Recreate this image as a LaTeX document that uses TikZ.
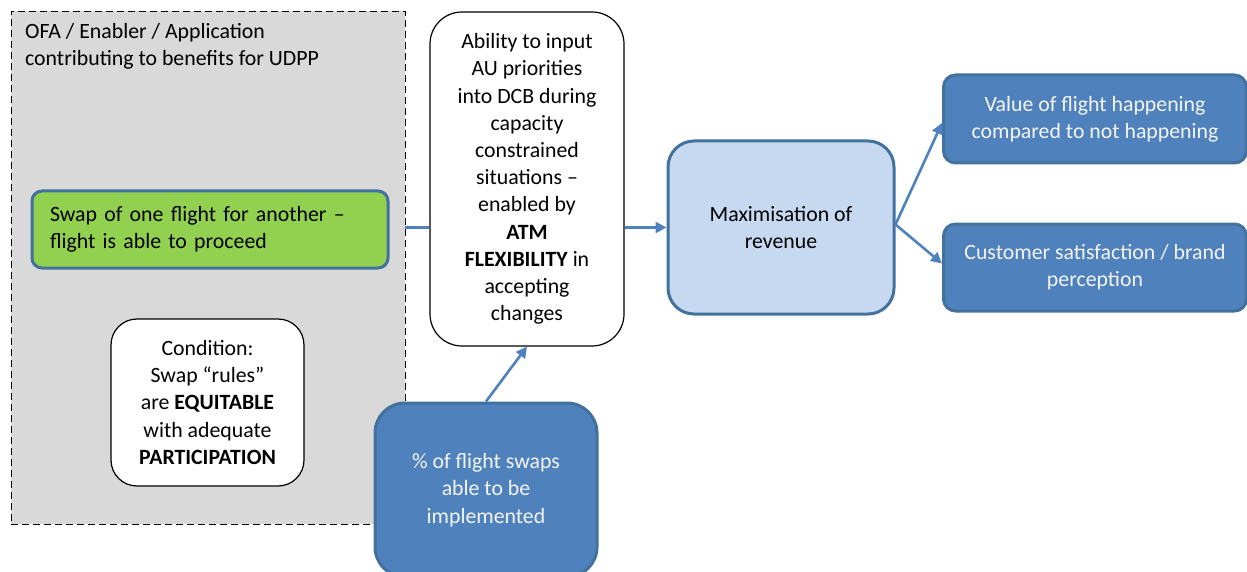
\documentclass[tikz,border=0pt]{standalone}
\usepackage{fontspec}
\setmainfont{Carlito}
\usetikzlibrary{arrows.meta}
\definecolor{grayfill}{HTML}{D9D9D9}
\definecolor{greenfill}{HTML}{92D050}
\definecolor{bluefill}{HTML}{4F81BD}
\definecolor{blueedge}{HTML}{41719C}
\definecolor{lightblue}{HTML}{C6D9F0}
\definecolor{wtext}{HTML}{F4F4F4}
\tikzset{
  box/.style={inner sep=0pt, align=center, font=\fontsize{21.8}{27.2}\selectfont},
  bluebox/.style={box, fill=bluefill, draw=blueedge, line width=3pt, text=wtext},
  whitebox/.style={box, fill=white, draw=black, line width=1.2pt},
  conn/.style={draw=bluefill, line width=2.6pt},
  arr/.style={conn, -{Triangle[length=11pt,width=11pt]}},
}
\begin{document}
\begin{tikzpicture}[x=1pt,y=-1pt]
\useasboundingbox (0,0) rectangle (1247,572);
\clip (0,0) rectangle (1247,572);
\node[box, fill=grayfill, draw=black, dash pattern=on 7pt off 4pt, line width=0.9pt, minimum width=394pt, minimum height=513pt] (outer) at (208,267.5) {};
\node[box, anchor=north west, align=left, text=black] (title) at (25,23) {OFA / Enabler / Application\\contributing to benefits for UDPP};
\node[box, fill=greenfill, draw=blueedge, line width=3pt, rounded corners=10pt, text width=320pt, inner xsep=18pt, align=left, minimum height=77pt] (swap) at (210,229.5) {Swap of one flight for another --\\flight is able to proceed};
\node[whitebox, rounded corners=26pt, minimum width=193pt, minimum height=167pt] (cond) at (207.5,402.5) {Condition:\\Swap ``rules''\\are \textbf{EQUITABLE}\\with adequate\\\textbf{PARTICIPATION}};
\node[whitebox, rounded corners=32pt, minimum width=194pt, minimum height=334pt] (abil) at (527,179) {Ability to input\\AU priorities\\into DCB during\\capacity\\constrained\\situations --\\enabled by\\\textbf{ATM}\\\textbf{FLEXIBILITY} in\\accepting\\changes};
\node[bluebox, rounded corners=30pt, minimum width=222pt, minimum height=174pt] (pct) at (486,490) {\% of flight swaps\\able to be\\implemented};
\node[box, fill=lightblue, draw=blueedge, line width=3pt, rounded corners=26pt, minimum width=226pt, minimum height=173pt] (maxr) at (781,227.5) {Maximisation of\\revenue};
\node[bluebox, rounded corners=12pt, minimum width=303pt, minimum height=88pt] (val) at (1095,119) {Value of flight happening\\compared to not happening};
\node[bluebox, rounded corners=12pt, minimum width=303pt, minimum height=87pt] (cust) at (1095,267.5) {Customer satisfaction / brand\\perception};
\coordinate (sw) at (outer.east |- maxr.west);
\draw[conn] (sw) -- (abil.west |- maxr.west);
\draw[arr] (abil.east |- maxr.west) -- (maxr.west);
\draw[arr] (pct.north) -- (abil.south);
\draw[arr] ([yshift=3pt]maxr.east) -- ([yshift=-4pt]val.west);
\draw[arr] ([yshift=3pt]maxr.east) -- ([yshift=4pt]cust.west);
\end{tikzpicture}
\end{document}
